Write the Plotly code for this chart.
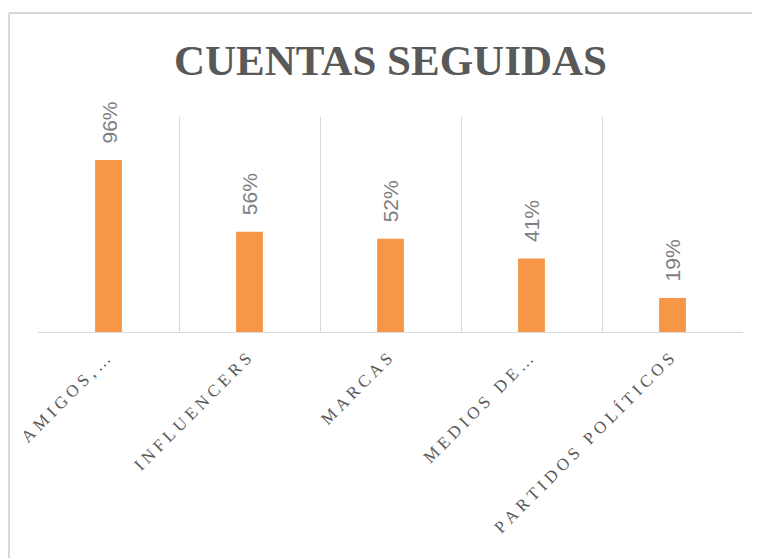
import plotly.graph_objects as go

categories = ["AMIGOS,…", "INFLUENCERS", "MARCAS", "MEDIOS DE…", "PARTIDOS POLÍTICOS"]
values = [0.96, 0.56, 0.52, 0.41, 0.19]
value_labels = ["96%", "56%", "52%", "41%", "19%"]
title_text = "CUENTAS SEGUIDAS"

SEP = "\u2005"


def spaced(s, sep=SEP):
    out = []
    for ch in s:
        if ch == " ":
            out.append("\u2002")
        else:
            out.append(ch + sep)
    return "".join(out).rstrip(sep)


tick_text = [spaced(c) for c in categories]

# figure is 752x550 (page body has an 8px margin)
W, H = 752, 550
L, R, T, B = 30, 17, 109, 226
PW, PH = W - L - R, H - T - B

fig = go.Figure()
fig.add_trace(go.Bar(
    x=categories,
    y=values,
    marker=dict(color="#F79646", line=dict(width=0)),
    width=0.19,
    hoverinfo="skip",
))

for c, v, t in zip(categories, values, value_labels):
    fig.add_annotation(
        x=c, y=v, text=t, textangle=-90, showarrow=False,
        xanchor="center", yanchor="bottom", yshift=14,
        font=dict(family="Liberation Sans, Arial, sans-serif", size=21, color="#7F7F7F"),
    )

fig.add_annotation(
    xref="paper", yref="paper", x=0.5, y=1.0, yshift=57,
    text="<b>" + title_text + "</b>", showarrow=False,
    xanchor="center", yanchor="middle",
    font=dict(family="Liberation Serif, serif", size=43, color="#595959"),
)

# outer chart border (left + top visible)
bx = (1 - L) / PW
by = (H - B - 5) / PH
fig.add_shape(type="line", xref="paper", yref="paper",
              x0=bx, x1=bx, y0=-2, y1=by,
              line=dict(color="#D9D9D9", width=2), layer="below")
fig.add_shape(type="line", xref="paper", yref="paper",
              x0=bx, x1=1.2, y0=by, y1=by,
              line=dict(color="#D9D9D9", width=2), layer="below")

fig.update_layout(
    width=W, height=H,
    margin=dict(l=L, r=R, t=T, b=B, autoexpand=False),
    paper_bgcolor="white", plot_bgcolor="white",
    showlegend=False,
    xaxis=dict(
        type="category",
        automargin=False,
        tickson="boundaries",
        showgrid=True, gridcolor="#D9D9D9", gridwidth=1,
        showline=True, linecolor="#D9D9D9", linewidth=1,
        ticks="", tickangle=-45,
        ticklabelstandoff=9, ticklabelshift=-3,
        tickmode="array", tickvals=categories, ticktext=tick_text,
        tickfont=dict(family="Liberation Serif, serif", size=17, color="#595959"),
        range=[-0.5, 4.5],
    ),
    yaxis=dict(
        range=[0, 1.2], showgrid=False, showticklabels=False, zeroline=False,
        showline=False, ticks="", automargin=False,
    ),
)

fig.write_html("out.html")
